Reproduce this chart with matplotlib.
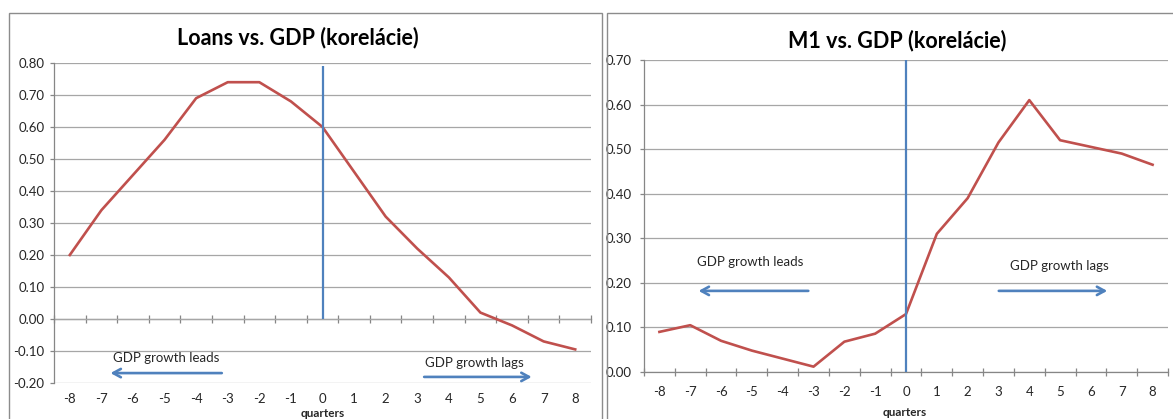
import numpy as np
import matplotlib
matplotlib.use("Agg")
import matplotlib.pyplot as plt
from matplotlib.patches import Rectangle

# ---- data ----
quarters = [-8, -7, -6, -5, -4, -3, -2, -1, 0, 1, 2, 3, 4, 5, 6, 7, 8]
loans_corr = [0.20, 0.34, 0.45, 0.56, 0.69, 0.74, 0.74, 0.68, 0.60, 0.46,
              0.32, 0.22, 0.13, 0.02, -0.02, -0.07, -0.095]
m1_corr = [0.09, 0.105, 0.07, 0.048, 0.03, 0.012, 0.068, 0.086, 0.13, 0.31,
           0.39, 0.515, 0.61, 0.52, 0.505, 0.49, 0.465]
titles = ["Loans vs. GDP (korelácie)", "M1 vs. GDP (korelácie)"]
xlabel = "quarters"
lead_text = "GDP growth leads"
lag_text = "GDP growth lags"

RED = "#C0504D"
BLUE = "#4F81BD"
GRID = "#A6A6A6"
AXC = "#868686"
FONT = ["Lato", "DejaVu Sans"]

plt.rcParams["font.family"] = FONT

W, H = 1173, 419
fig = plt.figure(figsize=(W / 100, H / 100), dpi=100)
fig.patch.set_facecolor("white")

def fx(px):
    return px / W

def fy(py):
    return 1 - py / H

# chart frames
fig.add_artist(Rectangle((fx(9), fy(430)), fx(602) - fx(9), fy(13) - fy(430),
                         transform=fig.transFigure, fill=False,
                         edgecolor="#8c8c8c", lw=1.0))
fig.add_artist(Rectangle((fx(607), fy(430)), fx(1190) - fx(607), fy(13) - fy(430),
                         transform=fig.transFigure, fill=False,
                         edgecolor="#8c8c8c", lw=1.0))

def make_chart(rect, data, ylim, yticks, vline_top, title, title_xy, xl_xy,
               lead_arrow, lead_txt, lag_arrow, lag_txt, xpad, ypad):
    ax = fig.add_axes(rect)
    ax.set_facecolor("none")
    x = np.array(quarters)
    ax.set_xlim(x[0] - 0.5, x[-1] + 0.5)
    ax.set_ylim(*ylim)
    ax.set_yticks(yticks)
    ax.set_yticklabels([f"{v:.2f}" for v in yticks])
    ax.yaxis.grid(True, color=GRID, lw=0.9)
    ax.set_axisbelow(True)
    for s in ["top", "right", "bottom"]:
        ax.spines[s].set_visible(False)
    ax.spines["left"].set_color(AXC)
    ax.spines["left"].set_linewidth(0.9)
    ax.tick_params(axis="y", length=3, width=0.9, color=AXC, pad=ypad,
                   labelsize=9.5, labelcolor="#262626")
    ax.set_xticks(x)
    ax.set_xticklabels([str(q) for q in quarters])
    ax.tick_params(axis="x", length=0, pad=xpad, labelsize=9.5,
                   labelcolor="#262626")

    # category axis crossing at y = 0 with boundary ticks
    sec = ax.secondary_xaxis(0, transform=ax.transData)
    bounds = np.arange(len(quarters) + 1) - 0.5 + quarters[0]
    sec.set_xticks(bounds)
    sec.set_xticklabels([])
    sec.tick_params(axis="x", direction="inout", length=6, width=0.9, color=AXC)
    sec.spines["bottom"].set_color(AXC)
    sec.spines["bottom"].set_linewidth(0.9)

    ax.plot(x, data, color=RED, lw=1.9, solid_joinstyle="round", zorder=3)
    ax.vlines(0, 0, vline_top, color=BLUE, lw=1.6, zorder=4)

    ax.annotate("", xy=(lead_arrow[1], lead_arrow[2]),
                xytext=(lead_arrow[0], lead_arrow[2]),
                arrowprops=dict(arrowstyle="->,head_length=0.55,head_width=0.3",
                                color=BLUE, lw=1.9))
    ax.text(lead_txt[0], lead_txt[1], lead_text, ha="center", va="center",
            fontsize=9.5, color="#262626")
    ax.annotate("", xy=(lag_arrow[1], lag_arrow[2]),
                xytext=(lag_arrow[0], lag_arrow[2]),
                arrowprops=dict(arrowstyle="->,head_length=0.55,head_width=0.3",
                                color=BLUE, lw=1.9))
    ax.text(lag_txt[0], lag_txt[1], lag_text, ha="center", va="center",
            fontsize=9.5, color="#262626")

    fig.text(title_xy[0], title_xy[1], title, ha="center", va="center",
             fontsize=15.5, fontweight="bold", color="black")
    fig.text(xl_xy[0], xl_xy[1], xlabel, ha="center", va="center",
             fontsize=8.5, fontweight="bold", color="#262626")
    return ax

# left chart
make_chart([fx(54), fy(383), fx(591) - fx(54), fy(63) - fy(383)],
           loans_corr, (-0.2, 0.8), np.round(np.arange(-0.2, 0.81, 0.1), 2), 0.79,
           titles[0], (fx(298), fy(38)), (fx(323), fy(413)),
           (-3.1, -6.8, -0.169), (-4.94, -0.122),
           (3.13, 6.71, -0.181), (4.81, -0.138), xpad=7, ypad=4)

# right chart
make_chart([fx(644), fy(372), fx(1168) - fx(644), fy(60) - fy(372)],
           m1_corr, (0.0, 0.7), np.round(np.arange(0.0, 0.71, 0.1), 2), 0.70,
           titles[1], (fx(897), fy(41)), (fx(905), fy(412)),
           (-3.08, -6.82, 0.182), (-5.06, 0.247),
           (2.92, 6.62, 0.182), (4.97, 0.238), xpad=10, ypad=6)

fig.savefig("out.png", dpi=100)
